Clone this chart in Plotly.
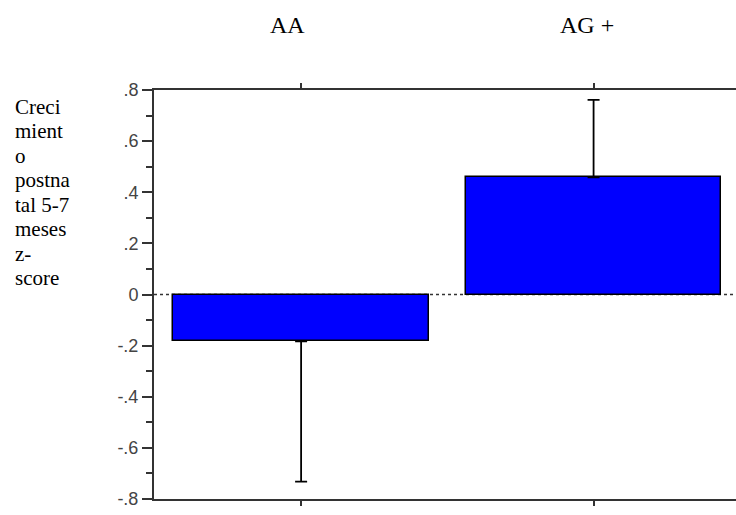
import plotly.graph_objects as go

# ---- data ----
categories = ["AA", "AG +"]
means = [-0.183, 0.458]
err_up = [0.0, 0.303]
err_down = [0.549, 0.0]
ytick_vals = [-0.8, -0.6, -0.4, -0.2, 0.0, 0.2, 0.4, 0.6, 0.8]
ytick_text = ["-.8", "-.6", "-.4", "-.2", "0", ".2", ".4", ".6", ".8"]
ylabel_lines = ["Creci", "mient", "o", "postna", "tal 5-7", "meses", "z-", "score"]

W, H = 760, 515
ML, MR, MT, MB = 154, 0, 90, 16
plot_h = H - MT - MB


def px_to_paper(py):
    return (H - MB - py) / plot_h


SERIF = "Liberation Serif, Times New Roman, serif"
SANS = "Liberation Sans, Arial, sans-serif"

fig = go.Figure()
fig.add_trace(go.Bar(
    x=[0, 1], y=means, width=[0.873, 0.873],
    marker=dict(color="#0000FF", line=dict(color="#000000", width=1.5)),
    error_y=dict(type="data", symmetric=False, array=err_up, arrayminus=err_down,
                 color="#000000", thickness=1.8, width=6),
    showlegend=False, hoverinfo="skip",
))

# dotted zero line
fig.add_shape(type="line", xref="paper", yref="y", x0=0, x1=1, y0=0, y1=0,
              line=dict(color="#333333", width=1.5, dash="dot"), layer="below")

# top category labels
for i, (c, xs) in enumerate(zip(categories, [-14, -7])):
    fig.add_annotation(x=i, xref="x", y=px_to_paper(40), yref="paper",
                       text=c, showarrow=False, xanchor="center", yanchor="bottom",
                       xshift=xs, font=dict(family=SERIF, size=24, color="#000000"))

# y-axis label, one line per annotation
for i, t in enumerate(ylabel_lines):
    fig.add_annotation(x=13, xref="paper", y=px_to_paper(106.5 + 24.5 * i), yref="paper",
                       text=t, showarrow=False, xanchor="left", yanchor="middle",
                       font=dict(family=SERIF, size=21, color="#000000"))

# fix annotation x in pixels -> paper
for a in fig.layout.annotations:
    if a.xref == "paper":
        a.x = (a.x - ML) / (W - ML - MR)

fig.update_layout(
    width=W, height=H,
    margin=dict(l=ML, r=MR, t=MT, b=MB, pad=0),
    plot_bgcolor="white", paper_bgcolor="white",
    bargap=0,
    xaxis=dict(range=[-0.503, 1.569], tickvals=[0, 1], ticktext=["", ""],
               showline=True, linecolor="#333333", linewidth=2, mirror="ticks",
               ticks="outside", ticklen=5, tickwidth=2, tickcolor="#333333",
               showgrid=False, zeroline=False, fixedrange=True),
    yaxis=dict(range=[-0.8, 0.8], tickvals=ytick_vals, ticktext=ytick_text,
               showline=True, linecolor="#333333", linewidth=2,
               ticks="outside", ticklen=10, tickwidth=2, tickcolor="#333333",
               minor=dict(dtick=0.1, tick0=0, ticks="outside", ticklen=6, tickwidth=2,
                          tickcolor="#333333", showgrid=False),
               tickfont=dict(family=SANS, size=18, color="#444444"),
               showgrid=False, zeroline=False, fixedrange=True),
)

fig.write_html(
    "out.html",
    config={"displayModeBar": False},
    post_script="document.body.style.margin='0';document.body.style.overflow='hidden';",
)
